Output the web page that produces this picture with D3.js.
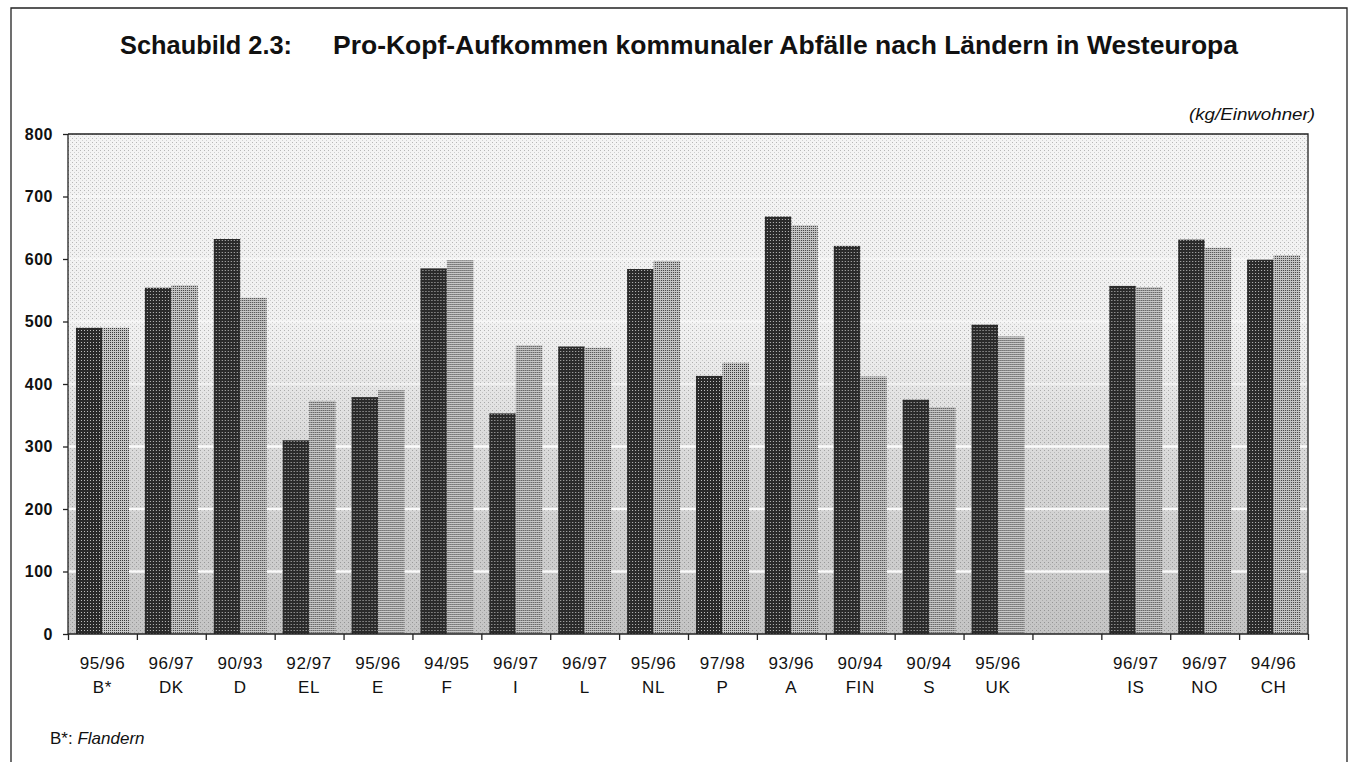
<!doctype html>
<html>
<head>
    <meta charset="utf-8">
    <script src="https://d3js.org/d3.v7.min.js"></script>
    <style>
        body { margin: 0; background: #fff; }
        svg { display: block; font-family: Arial, "Liberation Sans", Helvetica, sans-serif; }
        .yaxis text { font-size: 16px; font-weight: bold; fill: #111; letter-spacing: 0.5px; }
        .yaxis path, .yaxis line, .xaxis path, .xaxis line { stroke: #222; stroke-width: 1.3px; }
        .xlab { font-size: 17px; fill: #111; letter-spacing: 0.6px; }
    </style>
</head>
<body>

    <svg width="1355" height="762"></svg>

    <script>

        // countries (empty slot between UK and IS as in the original)
        var countries = ["B*", "DK", "D", "EL", "E", "F", "I", "L", "NL", "P", "A", "FIN", "S", "UK", "", "IS", "NO", "CH"];
        var periods   = ["95/96", "96/97", "90/93", "92/97", "95/96", "94/95", "96/97", "96/97", "95/96", "97/98", "93/96", "90/94", "90/94", "95/96", "", "96/97", "96/97", "94/96"];
        // kg per inhabitant, first year / second year of the period
        var firstYear  = [490, 554, 632, 310, 379, 585, 353, 460, 584, 413, 668, 621, 375, 495, null, 557, 631, 599];
        var secondYear = [490, 558, 538, 373, 390, 598, 462, 458, 597, 434, 654, 412, 363, 476, null, 555, 618, 606];
        var yTicks = [0, 100, 200, 300, 400, 500, 600, 700, 800];

        var svg = d3.select("svg");
        var mLeft = 68, mTop = 134, mRight = 1308, mBottom = 634;
        var width = mRight - mLeft, height = mBottom - mTop;

        // halftone-ish fills
        var defs = svg.append("defs");

        var grad = defs.append("linearGradient").attr("id", "bgGrad")
            .attr("x1", 0).attr("y1", 0).attr("x2", 0).attr("y2", 1);
        grad.append("stop").attr("offset", "0%").attr("stop-color", "#f4f4f4");
        grad.append("stop").attr("offset", "40%").attr("stop-color", "#f0f0f0");
        grad.append("stop").attr("offset", "60%").attr("stop-color", "#dcdcdc");
        grad.append("stop").attr("offset", "100%").attr("stop-color", "#c4c4c4");

        var pBg = defs.append("pattern").attr("id", "bgDots")
            .attr("width", 4).attr("height", 4).attr("patternUnits", "userSpaceOnUse");
        pBg.append("rect").attr("width", 1).attr("height", 1).attr("fill", "#000").attr("opacity", 0.25);
        pBg.append("rect").attr("x", 2).attr("y", 2).attr("width", 1).attr("height", 1).attr("fill", "#000").attr("opacity", 0.15);

        var pDark = defs.append("pattern").attr("id", "darkFill")
            .attr("width", 3).attr("height", 3).attr("patternUnits", "userSpaceOnUse");
        pDark.append("rect").attr("width", 3).attr("height", 3).attr("fill", "#2a2a2a");
        pDark.append("rect").attr("x", 1).attr("y", 1).attr("width", 1).attr("height", 1).attr("fill", "#bdbdbd");

        var pLight = defs.append("pattern").attr("id", "lightFill")
            .attr("width", 2).attr("height", 2).attr("patternUnits", "userSpaceOnUse");
        pLight.append("rect").attr("width", 2).attr("height", 2).attr("fill", "#c6c6c6");
        pLight.append("rect").attr("width", 1).attr("height", 1).attr("fill", "#3a3a3a");

        // outer frame (open at the bottom)
        svg.append("path")
            .attr("d", "M11,762 L11,8 L1347,8 L1347,762")
            .attr("fill", "none").attr("stroke", "#222").attr("stroke-width", 1.3);

        // title
        svg.append("text")
            .attr("x", 120).attr("y", 54)
            .attr("font-size", "25px").attr("font-weight", "bold").attr("fill", "#111")
            .attr("textLength", 172).attr("lengthAdjust", "spacingAndGlyphs")
            .text("Schaubild 2.3:");
        svg.append("text")
            .attr("x", 333).attr("y", 54)
            .attr("font-size", "25px").attr("font-weight", "bold").attr("fill", "#111")
            .attr("textLength", 905).attr("lengthAdjust", "spacingAndGlyphs")
            .text("Pro-Kopf-Aufkommen kommunaler Abfälle nach Ländern in Westeuropa");

        svg.append("text")
            .attr("x", 1189).attr("y", 120)
            .attr("font-size", "17px").attr("font-style", "italic").attr("fill", "#111")
            .attr("textLength", 126).attr("lengthAdjust", "spacingAndGlyphs")
            .text("(kg/Einwohner)");

        var x0 = d3.scaleBand().domain(countries).range([0, width]).padding(0);
        var x1 = d3.scaleBand().domain(["a", "b"]).range([0, x0.bandwidth()]).paddingInner(0).paddingOuter(0.3);
        var y = d3.scaleLinear().domain([0, 800]).range([height, 0]);
        var xEdges = d3.scaleLinear().domain([0, countries.length]).range([0, width]);

        var g = svg.append("g").attr("transform", "translate(" + mLeft + "," + mTop + ")");

        // plot background
        g.append("rect").attr("width", width).attr("height", height).attr("fill", "url(#bgGrad)");
        g.append("rect").attr("width", width).attr("height", height).attr("fill", "url(#bgDots)");

        // white gridlines (only visible on the darker lower part in the original)
        g.selectAll(".grid")
            .data(yTicks.filter(function(d) { return d > 0 && d < 800; }))
            .enter().append("line")
            .attr("x1", 0).attr("x2", width)
            .attr("y1", function(d) { return y(d); })
            .attr("y2", function(d) { return y(d); })
            .attr("stroke", "#fff").attr("stroke-width", 2.5)
            .attr("opacity", function(d) { return d <= 300 ? 0.9 : 0.5; });

        var groups = g.selectAll(".grp")
            .data(countries.map(function(c, i) { return {c: c, a: firstYear[i], b: secondYear[i]}; }))
            .enter().append("g")
            .attr("transform", function(d) { return "translate(" + x0(d.c) + ",0)"; });

        groups.filter(function(d) { return d.a != null; }).append("rect")
            .attr("x", x1("a")).attr("width", x1.bandwidth())
            .attr("y", function(d) { return y(d.a); })
            .attr("height", function(d) { return height - y(d.a); })
            .attr("fill", "url(#darkFill)");

        groups.filter(function(d) { return d.b != null; }).append("rect")
            .attr("x", x1("b")).attr("width", x1.bandwidth())
            .attr("y", function(d) { return y(d.b); })
            .attr("height", function(d) { return height - y(d.b); })
            .attr("fill", "url(#lightFill)");

        // plot border top / right
        g.append("path")
            .attr("d", "M0,0 H" + width + " V" + height)
            .attr("fill", "none").attr("stroke", "#222").attr("stroke-width", 1.3);

        g.append("g").attr("class", "yaxis")
            .call(d3.axisLeft(y).tickValues(yTicks).tickSize(5).tickPadding(10))
            .call(function(s) { s.select(".domain").attr("d", "M0," + height + "V0"); });

        g.append("g").attr("class", "xaxis")
            .attr("transform", "translate(0," + height + ")")
            .call(d3.axisBottom(xEdges).ticks(countries.length).tickSize(6).tickFormat(""))
            .call(function(s) { s.select(".domain").attr("d", "M0,0H" + width); });

        var labs = g.selectAll(".xlab")
            .data(countries.map(function(c, i) { return {c: c, p: periods[i]}; }).filter(function(d) { return d.c !== ""; }))
            .enter().append("text")
            .attr("class", "xlab")
            .attr("text-anchor", "middle")
            .attr("transform", function(d) { return "translate(" + (x0(d.c) + x0.bandwidth() / 2) + "," + (height + 35) + ")"; });
        labs.append("tspan").attr("x", 0).attr("y", 0).text(function(d) { return d.p; });
        labs.append("tspan").attr("x", 0).attr("y", 24).text(function(d) { return d.c; });

        // footnote
        var fn = svg.append("text").attr("x", 50).attr("y", 744).attr("font-size", "17px").attr("fill", "#111");
        fn.append("tspan").text("B*: ");
        fn.append("tspan").attr("font-style", "italic").text("Flandern");

    </script>
</body>
</html>
